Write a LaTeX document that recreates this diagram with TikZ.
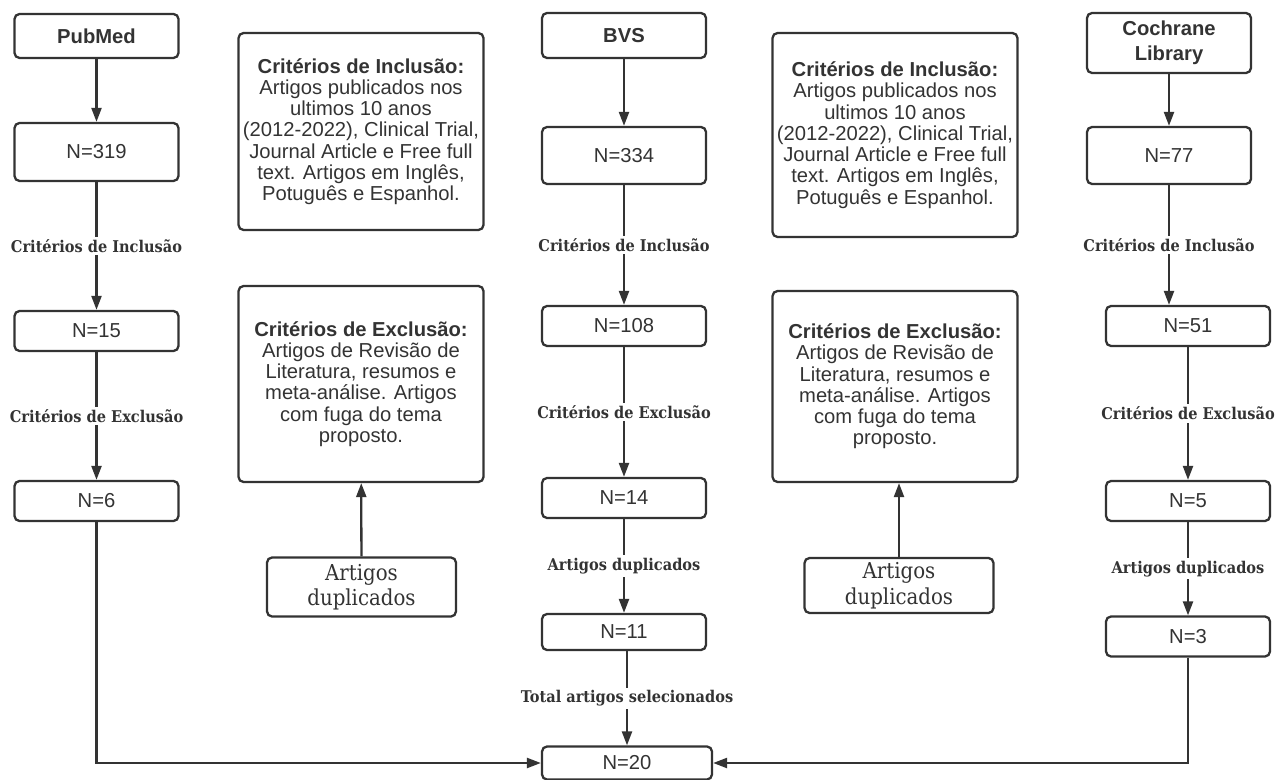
\documentclass[tikz,border=0pt]{standalone}
\usepackage{fontspec}
\setmainfont{Liberation Sans}
\newfontfamily\serifa[FakeStretch=0.9]{DejaVu Serif}
\usepackage{xcolor}
\usetikzlibrary{
    arrows.meta,
    positioning,
    calc
}
\definecolor{linha}{HTML}{333333}
\tikzset{
    caixa/.style={draw=linha, line width=1.3pt, rounded corners=0.1cm, text=linha, inner sep=0pt, align=center, font=\fontsize{11.5}{13}\selectfont},
    nbox/.style={caixa, minimum width=3.28cm, minimum height=0.8cm},
    fonte/.style={nbox, font=\fontsize{11.5}{14.2}\selectfont\bfseries},
    criterio/.style={caixa, minimum width=4.9cm, font=\fontsize{11.5}{12.1}\selectfont},
    duplic/.style={caixa, minimum width=3.78cm, font=\serifa\fontsize{12.5}{14.5}\selectfont},
    rotulo/.style={fill=white, text=linha, inner sep=1.5pt, font=\serifa\bfseries\fontsize{9.2}{11}\selectfont},
    seta/.style={draw=linha, line width=1.3pt, -{Triangle[length=0.28cm, width=0.2cm]}}
}

\begin{document}
\begin{tikzpicture}[x=0.02cm, y=-0.02cm]
    \useasboundingbox (0,0) rectangle (1288,780);

    % PubMed
    \node[fonte, minimum height=0.88cm] (pub) at (96.5,36) {PubMed};
    \node[nbox, minimum height=1.16cm] (n319) at (96.5,152) {N=319};
    \node[nbox] (n15) at (96.5,331) {N=15};
    \node[nbox] (n6) at (96.5,501) {N=6};

    % criterios
    \node[criterio, minimum height=3.94cm] (inc1) at (361,131.5) {\textbf{Critérios de Inclusão:}\\Artigos publicados nos\\ultimos 10 anos\\(2012-2022), Clinical Trial,\\Journal Article e Free full\\text. Artigos em Inglês,\\Potuguês e Espanhol.};
    \node[criterio, minimum height=3.92cm] (exc1) at (361,384) {\textbf{Critérios de Exclusão:}\\Artigos de Revisão de\\Literatura, resumos e\\meta-análise. Artigos\\com fuga do tema\\proposto.};
    \node[duplic, minimum height=1.18cm] (dup1) at (361.5,587) {Artigos\\duplicados};

    % BVS
    \node[fonte, minimum height=0.9cm] (bvs) at (624,35.5) {BVS};
    \node[nbox, minimum height=1.14cm] (n334) at (624,155.5) {N=334};
    \node[nbox] (n108) at (624,326) {N=108};
    \node[nbox] (n14) at (624,498) {N=14};
    \node[nbox, minimum height=0.72cm] (n11) at (624,632) {N=11};
    \node[nbox, minimum width=3.4cm, minimum height=0.66cm] (n20) at (627,763) {N=20};

    \node[criterio, minimum height=4.08cm] (inc2) at (895,135) {\textbf{Critérios de Inclusão:}\\Artigos publicados nos\\ultimos 10 anos\\(2012-2022), Clinical Trial,\\Journal Article e Free full\\text. Artigos em Inglês,\\Potuguês e Espanhol.};
    \node[criterio, minimum height=3.82cm] (exc2) at (895,386.5) {\textbf{Critérios de Exclusão:}\\Artigos de Revisão de\\Literatura, resumos e\\meta-análise. Artigos\\com fuga do tema\\proposto.};
    \node[duplic, minimum height=1.1cm] (dup2) at (899,585.5) {Artigos\\duplicados};

    % Cochrane
    \node[fonte, minimum height=1.2cm] (coch) at (1169,43) {Cochrane\\Library};
    \node[nbox, minimum height=1.14cm] (n77) at (1169,155.5) {N=77};
    \node[nbox] (n51) at (1188,326) {N=51};
    \node[nbox] (n5) at (1188,501) {N=5};
    \node[nbox] (n3) at (1188,636.5) {N=3};

    \draw[seta] (pub) -- (n319);
    \draw[seta] (n319) -- node[rotulo] {Critérios de Inclusão} (n15);
    \draw[seta] (n15) -- node[rotulo] {Critérios de Exclusão} (n6);
    \draw[seta] (n6.south) |- (n20.west);

    \draw[seta] (dup1) -- (exc1);
    \draw[seta] (dup2) -- (dup2.north |- exc2.south);

    \draw[seta] (bvs) -- (n334);
    \draw[seta] (n334) -- node[rotulo] {Critérios de Inclusão} (n108);
    \draw[seta] (n108) -- node[rotulo] {Critérios de Exclusão} (n14);
    \draw[seta] (n14) -- node[rotulo] {Artigos duplicados} (n11);
    \draw[seta] (n11.south -| n20.north) -- node[rotulo] {Total artigos selecionados} (n20.north);

    \draw[seta] (coch) -- (n77);
    \draw[seta] (n77.south) -- node[rotulo] {Critérios de Inclusão} (n77.south |- n51.north);
    \draw[seta] (n51) -- node[rotulo] {Critérios de Exclusão} (n5);
    \draw[seta] (n5) -- node[rotulo] {Artigos duplicados} (n3);
    \draw[seta] (n3.south) |- (n20.east);
\end{tikzpicture}
\end{document}
